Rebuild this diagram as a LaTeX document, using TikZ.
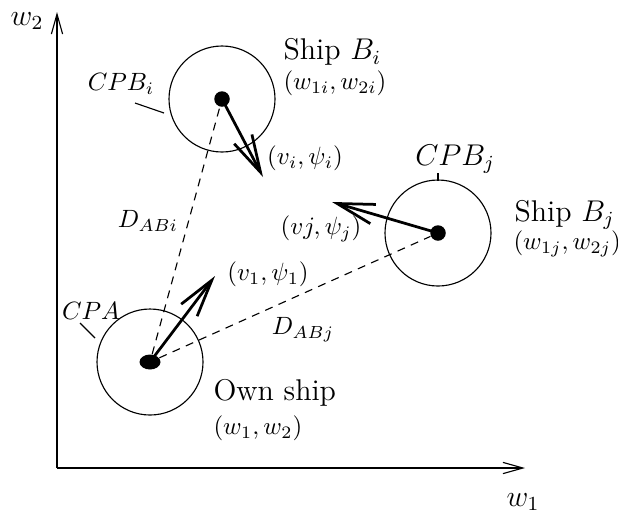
\documentclass[tikz,border=0pt]{standalone}
\usepackage{amssymb}
\usepackage{tikz}
\usetikzlibrary{arrows.meta,shapes.geometric}
\pgfdeclarelayer{edgelayer}
\pgfdeclarelayer{nodelayer}
\pgfsetlayers{edgelayer,nodelayer,main}
\tikzstyle{frame}=[draw=black, line width=0.45pt, -{Straight Barb[length=8pt,width=4.5pt]}]
\tikzstyle{heading}=[draw=black, line width=1.1pt, -{Straight Barb[length=15pt,width=8pt]}]
\tikzstyle{sightline}=[draw=black, line width=0.45pt, dash pattern=on 3.2pt off 2.6pt]
\tikzstyle{leader}=[draw=black, line width=0.45pt]
\tikzstyle{zone}=[circle, draw=black, line width=0.45pt, minimum size=42.4pt, inner sep=0pt]
\tikzstyle{ship}=[circle, fill=black, minimum size=6.2pt, inner sep=0pt]
\tikzstyle{own}=[ellipse, fill=black, minimum width=8.4pt, minimum height=6pt, inner sep=0pt]
\tikzstyle{tag}=[inner sep=0pt]

\begin{document}
\begin{tikzpicture}[x=0.4pt, y=-0.4pt]
				\useasboundingbox (0, 0) rectangle (618, 515);
				\begin{pgfonlayer}{nodelayer}
					\node [style=own] (0) at (150, 362) {};
					\node [style=ship] (1) at (222, 99) {};
					\node [style=ship] (2) at (438, 233) {};
					\node [style=zone] (3) at (150, 362) {};
					\node [style=zone] (4) at (222, 99) {};
					\node [style=zone] (5) at (438, 233) {};
					\node [style=tag] (6) at (27, 21) {\large $w_2$};
					\node [style=tag] (7) at (523, 502) {\large $w_1$};
					\node [style=tag, anchor=west] (8) at (213, 393) {\large Own ship};
					\node [style=tag, anchor=west] (9) at (213, 428) {$(w_1, w_2)$};
					\node [style=tag, anchor=west] (10) at (283, 52) {\large Ship $B_i$};
					\node [style=tag, anchor=west] (11) at (283, 83) {$(w_{1i}, w_{2i})$};
					\node [style=tag, anchor=west] (12) at (514, 215) {\large Ship $B_j$};
					\node [style=tag, anchor=west] (13) at (513, 244) {$(w_{1j}, w_{2j})$};
					\node [style=tag] (14) at (121, 84) {$CPB_i$};
					\node [style=tag] (15) at (455, 159) {\large $CPB_j$};
					\node [style=tag] (16) at (91, 311) {$CPA$};
					\node [style=tag] (17) at (305, 158) {$(v_i, \psi_i)$};
					\node [style=tag] (18) at (321, 229) {$(vj, \psi_j)$};
					\node [style=tag] (19) at (268, 274) {$(v_1, \psi_1)$};
					\node [style=tag] (20) at (148, 221) {$D_{ABi}$};
					\node [style=tag] (21) at (303, 330) {$D_{ABj}$};
				\end{pgfonlayer}
				\begin{pgfonlayer}{edgelayer}
					\coordinate (22) at (57, 468);
					\coordinate (23) at (57, 12);
					\coordinate (24) at (525, 468);
					\coordinate (25) at (215, 276);
					\coordinate (26) at (263, 177);
					\coordinate (27) at (332, 202);
					\coordinate (28) at (135, 103);
					\coordinate (29) at (164, 113);
					\coordinate (30) at (438, 173);
					\coordinate (31) at (438, 181);
					\coordinate (32) at (80, 323);
					\coordinate (33) at (95, 338);
					\draw [style=frame] (22) to (23);
					\draw [style=frame] (22) to (24);
					\draw [style=sightline] (0) to (1);
					\draw [style=sightline] (0) to (2);
					\draw [style=heading] (0.center) to (25);
					\draw [style=heading] (1.center) to (26);
					\draw [style=heading] (2.center) to (27);
					\draw [style=leader] (28) to (29);
					\draw [style=leader] (30) to (31);
					\draw [style=leader] (32) to (33);
				\end{pgfonlayer}
			\end{tikzpicture}
\end{document}
